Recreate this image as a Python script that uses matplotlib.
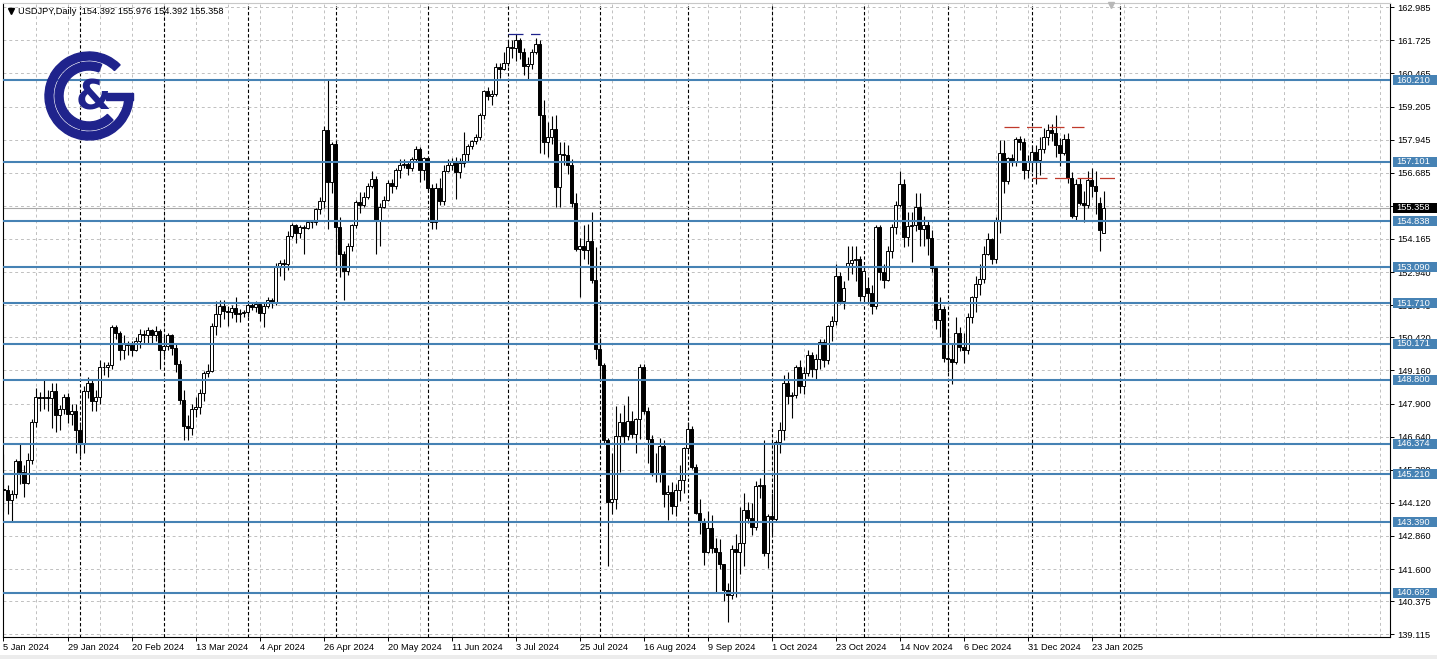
import numpy as np
import pandas as pd
import matplotlib
matplotlib.use("Agg")
import matplotlib.pyplot as plt
from matplotlib.patches import Rectangle, Wedge
from matplotlib.transforms import blended_transform_factory

W, H = 1437, 659

symbol_title = "USDJPY,Daily  154.392 155.976 154.392 155.358"
holidays = ["2024-01-01", "2024-12-25", "2025-01-01"]
first_day, last_day = "2024-01-05", "2025-01-28"

opens = [
    144.66, 144.60, 144.22, 144.45, 145.72, 145.28, 144.88, 145.75, 147.18, 148.15,
    148.12, 148.16, 148.10, 148.36, 147.48, 147.68, 148.14, 147.50, 147.60, 146.90,
    146.40, 148.38, 148.68, 148.00, 148.15, 149.30, 149.28, 149.38, 150.80, 150.60,
    149.95, 150.20, 150.12, 149.95, 150.30, 150.55, 150.50, 150.70, 150.50, 150.68,
    149.95, 150.10, 150.50, 150.00, 149.40, 148.05, 147.05, 146.95, 147.68, 147.75,
    148.30, 149.05, 149.15, 150.85, 151.30, 151.60, 151.42, 151.40, 151.55, 151.30,
    151.35, 151.38, 151.65, 151.58, 151.68, 151.35, 151.62, 151.85, 151.78, 153.15,
    153.25, 153.22, 154.27, 154.70, 154.40, 154.62, 154.60, 154.83, 154.80, 155.30,
    155.62, 158.30, 156.34, 157.78, 154.63, 153.61, 152.95, 153.90, 154.68, 155.58,
    155.45, 155.78, 156.20, 156.45, 154.85, 155.40, 155.65, 156.30, 156.18, 156.80,
    157.00, 157.02, 156.85, 157.20, 157.60, 156.80, 157.25, 156.10, 154.82, 156.10,
    155.62, 156.75, 157.00, 157.15, 156.70, 157.05, 157.40, 157.70, 157.88, 158.05,
    158.88, 159.80, 159.60, 159.70, 160.72, 160.65, 160.88, 161.47, 161.45, 161.73,
    161.30, 160.75, 160.82, 161.30, 161.60, 158.90, 157.87, 158.05, 158.35, 156.15,
    157.40, 157.35, 157.00, 155.55, 153.80, 153.90, 153.75, 154.10, 152.62, 149.98,
    149.36, 146.50, 144.15, 144.28, 146.65, 147.20, 146.65, 147.25, 146.75, 147.30,
    149.28, 147.63, 146.55, 145.25, 145.20, 146.30, 144.45, 144.55, 144.00, 144.60,
    145.00, 146.20, 146.92, 145.48, 143.75, 143.42, 142.25, 143.15, 142.40, 142.25,
    141.80, 140.80, 140.62, 142.35, 142.25, 142.60, 143.85, 143.55, 143.20, 144.75,
    144.78, 142.20, 143.60, 143.52, 146.45, 146.90, 148.70, 148.20, 148.22, 149.28,
    148.58, 149.05, 149.75, 149.20, 149.60, 150.25, 149.55, 150.85, 151.05, 152.75,
    151.82, 153.10, 153.25, 153.35, 153.40, 152.00, 152.30, 152.10, 151.60, 154.63,
    152.90, 152.60, 153.70, 154.62, 155.45, 156.25, 154.25, 154.65, 154.68, 155.40,
    154.55, 154.70, 154.20, 153.05, 151.07, 151.50, 149.63, 149.58, 149.50, 150.60,
    150.05, 149.95, 151.20, 151.95, 152.45, 152.65, 153.60, 154.15, 153.40, 154.85,
    157.42, 156.38, 157.25, 157.08, 157.96, 157.85, 156.81, 157.14, 157.48, 157.16,
    157.60, 158.06, 158.30, 158.20, 157.74, 157.45, 157.96, 156.47, 155.03, 156.25,
    155.55, 155.45, 156.40, 156.20, 155.52, 154.392,
]
highs = [
    145.98, 144.80, 144.60, 145.80, 146.41, 145.55, 146.00, 147.30, 148.50, 148.35,
    148.80, 148.40, 148.70, 148.70, 147.85, 148.25, 148.30, 147.90, 147.90, 147.20,
    148.55, 148.90, 148.80, 148.40, 149.55, 149.50, 149.50, 150.90, 150.90, 150.65,
    150.50, 150.30, 150.30, 150.45, 150.75, 150.70, 150.80, 150.75, 150.85, 150.75,
    150.50, 150.60, 150.55, 150.20, 149.55, 148.40, 147.45, 147.90, 148.15, 148.45,
    149.15, 149.40, 150.95, 151.80, 151.86, 151.85, 151.60, 151.65, 151.97, 151.50,
    151.45, 151.75, 151.75, 151.80, 151.75, 151.75, 151.95, 151.92, 153.25, 153.35,
    153.40, 154.45, 154.78, 154.75, 154.70, 154.68, 154.88, 154.88, 155.35, 155.75,
    158.45, 160.21, 157.85, 157.95, 155.00, 153.70, 154.00, 154.75, 155.65, 155.95,
    155.95, 156.30, 156.75, 156.55, 155.55, 155.80, 156.40, 156.45, 156.85, 157.20,
    157.20, 157.10, 157.30, 157.70, 157.65, 157.30, 157.30, 156.25, 156.30, 156.50,
    157.00, 157.20, 157.25, 157.30, 157.25, 158.25, 157.80, 157.95, 158.15, 158.95,
    159.85, 159.95, 159.85, 160.85, 160.88, 161.30, 161.75, 161.75, 161.95, 161.80,
    161.45, 161.10, 161.40, 161.80, 161.75, 159.45, 158.60, 158.85, 158.90, 157.85,
    157.85, 157.75, 157.20, 155.90, 154.20, 154.70, 154.75, 155.20, 153.85, 150.40,
    149.45, 146.60, 146.00, 147.80, 147.55, 147.85, 148.20, 147.60, 147.35, 149.40,
    149.40, 147.75, 146.70, 146.00, 146.60, 146.50, 144.80, 144.90, 144.85, 145.55,
    146.25, 147.20, 147.05, 145.60, 144.25, 143.55, 143.80, 143.65, 142.80, 142.75,
    141.80, 141.05, 142.50, 142.95, 143.95, 144.50, 144.15, 144.10, 144.95, 145.05,
    146.50, 143.70, 144.50, 146.50, 147.20, 149.00, 149.10, 148.35, 149.35, 149.55,
    149.30, 149.95, 149.85, 149.80, 150.35, 150.35, 150.90, 151.25, 153.20, 152.90,
    152.55, 153.90, 153.90, 153.90, 153.50, 153.10, 152.70, 152.40, 154.70, 154.70,
    153.20, 153.90, 154.75, 155.60, 156.75, 156.45, 155.20, 155.20, 155.90, 155.90,
    155.05, 154.85, 154.50, 153.15, 151.95, 151.60, 150.75, 150.20, 151.20, 150.80,
    150.60, 151.35, 152.00, 152.75, 153.20, 153.90, 154.40, 154.20, 155.00, 157.92,
    157.95, 157.30, 157.40, 158.05, 158.10, 158.00, 157.35, 157.70, 157.75, 158.05,
    158.40, 158.55, 158.55, 158.88, 158.00, 158.15, 158.20, 156.70, 156.45, 156.50,
    156.00, 156.75, 156.85, 156.75, 155.75, 155.976,
]
lows = [
    143.82, 143.70, 143.42, 144.30, 144.85, 144.35, 144.85, 145.60, 147.00, 147.60,
    147.70, 147.60, 146.98, 146.80, 146.90, 147.50, 147.15, 147.10, 146.00, 145.90,
    146.00, 148.10, 147.60, 147.60, 147.90, 149.00, 148.90, 149.20, 150.35, 149.55,
    149.60, 149.75, 149.70, 149.90, 150.00, 150.20, 150.20, 150.20, 150.30, 149.20,
    149.70, 149.95, 149.75, 149.10, 147.90, 146.50, 146.50, 146.70, 147.40, 147.50,
    148.00, 148.90, 149.10, 150.50, 150.80, 151.10, 150.85, 151.15, 151.00, 151.00,
    151.20, 151.20, 151.45, 151.40, 151.05, 150.80, 151.55, 151.55, 151.65, 152.75,
    152.60, 153.00, 154.20, 154.00, 154.20, 153.60, 154.55, 154.60, 154.70, 155.10,
    155.35, 154.54, 155.90, 153.05, 152.70, 151.86, 152.80, 153.70, 154.60, 155.15,
    155.40, 155.70, 156.10, 153.60, 153.90, 155.35, 155.60, 155.90, 156.05, 156.50,
    156.85, 156.60, 156.75, 157.10, 156.35, 156.40, 156.00, 154.55, 154.55, 155.45,
    155.45, 156.70, 156.80, 155.70, 156.50, 156.90, 157.10, 157.60, 157.80, 157.95,
    158.75, 159.45, 159.25, 159.60, 160.30, 160.60, 160.75, 161.05, 160.95, 161.00,
    160.40, 160.25, 160.65, 161.20, 157.42, 157.40, 157.30, 157.80, 155.40, 155.40,
    157.00, 156.65, 155.40, 153.70, 151.95, 153.40, 153.20, 152.50, 149.60, 148.80,
    146.40, 141.70, 143.70, 143.90, 145.30, 146.35, 146.50, 146.60, 146.00, 146.55,
    147.50, 145.65, 145.15, 144.90, 144.90, 143.95, 143.45, 143.70, 143.60, 144.20,
    144.50, 146.10, 145.40, 143.70, 142.95, 141.75, 142.20, 142.20, 140.70, 141.60,
    140.40, 139.58, 140.45, 140.55, 141.40, 141.70, 143.35, 142.90, 143.10, 144.30,
    142.10, 141.65, 142.95, 143.40, 146.00, 146.50, 147.90, 147.35, 148.10, 148.30,
    148.25, 148.95, 148.90, 148.85, 149.20, 149.30, 149.40, 150.30, 150.90, 151.70,
    151.50, 152.60, 152.85, 152.55, 151.80, 151.80, 151.70, 151.30, 151.50, 152.60,
    152.30, 152.55, 153.45, 154.35, 155.40, 153.85, 153.90, 153.30, 154.45, 153.90,
    153.90, 153.55, 152.90, 150.75, 150.45, 149.50, 149.10, 148.65, 149.40, 149.90,
    149.45, 149.80, 150.95, 151.40, 152.05, 152.50, 153.55, 153.20, 153.25, 154.40,
    155.90, 156.25, 156.95, 156.95, 157.55, 156.45, 156.50, 156.70, 156.25, 156.60,
    157.45, 157.75, 157.90, 157.30, 156.95, 157.35, 156.30, 154.95, 154.85, 155.45,
    154.80, 155.35, 155.75, 155.10, 153.72, 154.392,
]
closes = [
    144.60, 144.22, 144.45, 145.72, 145.28, 144.88, 145.75, 147.18, 148.15, 148.12,
    148.16, 148.10, 148.36, 147.48, 147.68, 148.14, 147.50, 147.60, 146.90, 146.40,
    148.38, 148.68, 148.00, 148.15, 149.30, 149.28, 149.38, 150.80, 150.60, 149.95,
    150.20, 150.12, 149.95, 150.30, 150.55, 150.50, 150.70, 150.50, 150.68, 149.95,
    150.10, 150.50, 150.00, 149.40, 148.05, 147.05, 146.95, 147.68, 147.75, 148.30,
    149.05, 149.15, 150.85, 151.30, 151.60, 151.42, 151.40, 151.55, 151.30, 151.35,
    151.38, 151.65, 151.58, 151.68, 151.35, 151.62, 151.85, 151.78, 153.15, 153.25,
    153.22, 154.27, 154.70, 154.40, 154.62, 154.60, 154.83, 154.80, 155.30, 155.62,
    158.30, 156.34, 157.78, 154.63, 153.61, 152.95, 153.90, 154.68, 155.58, 155.45,
    155.78, 156.20, 156.45, 154.85, 155.40, 155.65, 156.30, 156.18, 156.80, 157.00,
    157.02, 156.85, 157.20, 157.60, 156.80, 157.25, 156.10, 154.82, 156.10, 155.62,
    156.75, 157.00, 157.15, 156.70, 157.05, 157.40, 157.70, 157.88, 158.05, 158.88,
    159.80, 159.60, 159.70, 160.72, 160.65, 160.88, 161.47, 161.45, 161.73, 161.30,
    160.75, 160.82, 161.30, 161.60, 158.90, 157.87, 158.05, 158.35, 156.15, 157.40,
    157.35, 157.00, 155.55, 153.80, 153.90, 153.75, 154.10, 152.62, 149.98, 149.36,
    146.50, 144.15, 144.28, 146.65, 147.20, 146.65, 147.25, 146.75, 147.30, 149.28,
    147.63, 146.55, 145.25, 145.20, 146.30, 144.45, 144.55, 144.00, 144.60, 145.00,
    146.20, 146.92, 145.48, 143.75, 143.42, 142.25, 143.15, 142.40, 142.25, 141.80,
    140.80, 140.62, 142.35, 142.25, 142.60, 143.85, 143.55, 143.20, 144.75, 144.78,
    142.20, 143.60, 143.52, 146.45, 146.90, 148.70, 148.20, 148.22, 149.28, 148.58,
    149.05, 149.75, 149.20, 149.60, 150.25, 149.55, 150.85, 151.05, 152.75, 151.82,
    152.30, 153.25, 153.35, 153.40, 152.00, 152.95, 152.10, 151.60, 154.63, 152.90,
    152.60, 153.70, 154.62, 155.45, 156.25, 154.25, 154.65, 154.68, 155.40, 154.55,
    154.70, 154.20, 153.05, 151.07, 151.50, 149.63, 149.58, 149.50, 150.60, 150.05,
    149.95, 151.20, 151.95, 152.45, 152.65, 153.60, 154.15, 153.40, 154.85, 157.42,
    156.38, 157.25, 157.08, 157.96, 157.85, 156.81, 157.14, 157.48, 157.16, 157.60,
    158.06, 158.30, 158.20, 157.74, 157.45, 157.96, 156.47, 155.03, 156.25, 155.55,
    155.45, 156.40, 156.20, 156.00, 154.50, 155.358,
]

# horizontal levels drawn on the chart
levels = [160.210, 157.101, 154.838, 153.090, 151.710, 150.171,
          148.800, 146.374, 145.210, 143.390, 140.692]

# right price scale
price_ticks = [162.985, 161.725, 160.465, 159.205, 157.945, 156.685, 155.425,
               154.165, 152.905, 151.645, 150.420, 149.160, 147.900, 146.640,
               145.380, 144.120, 142.860, 141.600, 140.375, 139.115]
price_tick_labels = ["162.985", "161.725", "160.465", "159.205", "157.945",
                     "156.685", "155.425", "154.165", "152.940", "151.645",
                     "150.420", "149.160", "147.900", "146.640", "145.380",
                     "144.120", "142.860", "141.600", "140.375", "139.115"]

# time scale labels
label_dates = ["2024-01-05", "2024-01-29", "2024-02-20", "2024-03-13",
               "2024-04-04", "2024-04-26", "2024-05-20", "2024-06-11",
               "2024-07-03", "2024-07-25", "2024-08-16", "2024-09-09",
               "2024-10-01", "2024-10-23", "2024-11-14", "2024-12-06",
               "2024-12-31", "2025-01-23"]

# dashed marker lines (start date, end date, price)
red_marks = [("2024-12-20", "2025-01-21", 158.41),
             ("2025-01-02", "2025-02-03", 156.47)]
navy_marks = [("2024-07-01", "2024-07-11", 161.96)]

LEVEL_C = "#4682b4"
LOGO_C = "#1f238c"
GRID_C = "#c0c0c0"


def main():
    n = len(closes)
    assert len(opens) == len(highs) == len(lows) == n, (len(opens), len(highs), len(lows), n)

    # trading calendar, running a few days past the last bar (chart shift area)
    cal = pd.bdate_range(first_day, "2025-02-10")
    cal = cal[~cal.isin(pd.to_datetime(holidays))]
    assert cal[n - 1] == pd.Timestamp(last_day), cal[n - 1]

    o = np.array(opens)
    h = np.array(highs)
    l = np.array(lows)
    c = np.array(closes)
    x = np.arange(n)

    plt.rcParams["font.family"] = ["Liberation Sans", "DejaVu Sans"]
    fs = 6.7

    fig = plt.figure(figsize=(W / 100, H / 100), dpi=100)
    ax = fig.add_axes([3 / W, 1 - 637 / H, 1387 / W, 634 / H])
    ax.set_xlim(-0.125, 346.625)
    ax.set_ylim(139.012, 163.149)

    # grid
    ax.yaxis.tick_right()
    ax.set_yticks(price_ticks)
    ax.set_yticklabels(price_tick_labels)
    ax.grid(axis="y", color=GRID_C, ls=(0, (3, 3)), lw=0.7, zorder=0)
    for gx in np.arange(0, 347, 8):
        ax.axvline(gx, color=GRID_C, ls=(0, (3, 3)), lw=0.7, zorder=0)

    # month separators
    months = cal.to_period("M")
    seps = np.where(months[1:] != months[:-1])[0] + 1
    for sx in seps:
        ax.axvline(sx, color="black", ls=(0, (3, 2)), lw=0.8, zorder=1)

    # bid line
    ax.axhline(c[-1], color="#a8a8a8", lw=0.8, zorder=1)

    # candles
    ax.vlines(x, l, h, color="black", lw=0.8, zorder=3)
    up = c >= o
    ax.bar(x, c - o, bottom=o, width=0.55, color=np.where(up, "white", "black"),
           edgecolor="black", linewidth=0.7, zorder=4)

    # levels
    for lv in levels:
        ax.axhline(lv, color=LEVEL_C, lw=1.5, zorder=5)

    for d0, d1, p in red_marks:
        i0, i1 = cal.get_indexer(pd.to_datetime([d0, d1]))
        ax.hlines(p, i0, i1, color="#c0392b", lw=0.9, ls=(0, (12, 6)), zorder=6)
    for d0, d1, p in navy_marks:
        i0, i1 = cal.get_indexer(pd.to_datetime([d0, d1]))
        ax.hlines(p, i0, i1, color="#1f238c", lw=0.9, ls=(0, (12, 6)), zorder=6)

    # x labels
    pos = cal.get_indexer(pd.to_datetime(label_dates))
    ax.set_xticks(pos)
    ax.set_xticklabels([f"{d.day} {d.strftime('%b %Y')}" for d in pd.to_datetime(label_dates)],
                       ha="left")
    ax.tick_params(axis="x", length=3, width=0.7, pad=1.5, labelsize=fs)
    ax.tick_params(axis="y", length=3, width=0.7, pad=2, labelsize=fs)

    for s in ["left", "right", "bottom"]:
        ax.spines[s].set_color("black")
        ax.spines[s].set_linewidth(0.8)
    ax.spines["top"].set_color("#c8c8c8")

    # price boxes on the scale
    trans = blended_transform_factory(ax.transAxes, ax.transData)
    bh = 10 / 26.27
    for lv in levels:
        ax.add_patch(Rectangle((1.0021, lv - bh / 2), 0.0317, bh, transform=trans,
                               facecolor=LEVEL_C, edgecolor="none", clip_on=False, zorder=10))
        ax.text(1.0043, lv, f"{lv:.3f}", transform=trans, color="white", fontsize=fs,
                va="center", ha="left", clip_on=False, zorder=11)
    ax.add_patch(Rectangle((1.0021, c[-1] - bh / 2), 0.0317, bh, transform=trans,
                           facecolor="black", edgecolor="none", clip_on=False, zorder=10))
    ax.text(1.0043, c[-1], f"{c[-1]:.3f}", transform=trans, color="white", fontsize=fs,
            va="center", ha="left", clip_on=False, zorder=11)

    # overlay in pixel units: title, shift marker and logo
    ov = fig.add_axes([0, 0, 1, 1], zorder=20)
    ov.set_xlim(0, W)
    ov.set_ylim(H, 0)
    ov.axis("off")
    ov.patch.set_alpha(0)
    ov.plot([11], [10.5], marker="v", ms=4.5, color="black")
    ov.text(18, 11, symbol_title, fontsize=fs, va="center", ha="left")
    ov.plot([1111], [5], marker="v", ms=5, color="#b8b8b8")

    cx, cy = 89, 96
    ov.add_patch(Wedge((cx, cy), 44, -360, -45, width=8, color=LOGO_C))
    ov.add_patch(Wedge((cx, cy), 34, -315, -68, width=8, color=LOGO_C))
    ov.add_patch(Rectangle((106, 92.5), 27, 7.5, color=LOGO_C))
    ov.text(93, 98, "&", fontsize=29, fontweight="bold", color=LOGO_C,
            ha="center", va="center", family="DejaVu Sans")

    fig.patches.append(Rectangle((0, 0), 1, 4 / H, transform=fig.transFigure,
                                 facecolor="#ececec", edgecolor="none"))

    fig.savefig("out.png", dpi=100)


if __name__ == "__main__":
    main()
